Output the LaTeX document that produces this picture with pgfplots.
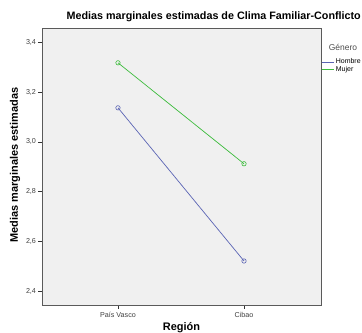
\documentclass[border=0pt]{standalone}
\usepackage{pgfplots}
\pgfplotsset{compat=1.18}
\usepackage{fontspec}
\setmainfont{Liberation Sans}
\definecolor{hombre}{HTML}{5A64B4}
\definecolor{mujer}{HTML}{3CBC3C}
\definecolor{plotbg}{HTML}{F0F0F0}
\definecolor{frame}{HTML}{5A5A5A}
\begin{document}
\begin{tikzpicture}
\useasboundingbox (0,0) rectangle (362bp,333bp);
\begin{axis}[
  at={(42bp,28bp)}, anchor=south west,
  scale only axis, width=279bp, height=277bp,
  axis background/.style={fill=plotbg},
  axis line style={frame, line width=0.9pt},
  xmin=-0.603, xmax=1.611,
  ymin=2.344, ymax=3.458,
  xtick={0,1}, xticklabels={País Vasco, Cibao},
  ytick={2.4,2.6,2.8,3.0,3.2,3.4},
  yticklabel style={xshift=1bp, /pgf/number format/.cd, fixed, fixed zerofill, precision=1, use comma},
  /pgf/number format/assume math mode=true,
  tick style={black!80, line width=0.5pt},
  tick align=outside, major tick length=3.5bp,
  xtick pos=bottom, ytick pos=left,
  ticklabel style={font=\fontsize{7.2}{8}\selectfont, text=black!75},
  legend style={at={(axis description cs:1,0.897)}, anchor=north west,
    draw=none, fill=none, font=\fontsize{7}{7}\selectfont,
    inner sep=0pt, row sep=-3pt, cells={anchor=west}},
  legend image code/.code={\draw[#1] (0bp,0bp) -- (12bp,0bp);},
  legend cell align=left,
  clip=false,
]
\addplot[hombre, line width=0.7pt, mark=o, mark size=2.2bp, mark options={line width=0.6pt}]
  coordinates {(0,3.137) (1,2.521)};
\addlegendentry{Hombre}
\addplot[mujer, line width=0.7pt, mark=o, mark size=2.2bp, mark options={line width=0.6pt}]
  coordinates {(0,3.318) (1,2.912)};
\addlegendentry{Mujer}
\end{axis}
% titles and axis names
\node[font=\bfseries\fontsize{10.8}{13}\selectfont, anchor=east, inner sep=0pt] at (361bp,316bp)
  {Medias marginales estimadas de Clima Familiar-Conflicto};
\node[font=\bfseries\fontsize{11}{13}\selectfont, rotate=90] at (15bp,168bp)
  {Medias marginales estimadas};
\node[font=\bfseries\fontsize{11}{13}\selectfont, anchor=base, inner sep=0pt] at (181.5bp,3bp)
  {Región};
\node[font=\fontsize{8.5}{9}\selectfont, text=black!70] at (343bp,286bp) {Género};
\end{tikzpicture}
\end{document}
